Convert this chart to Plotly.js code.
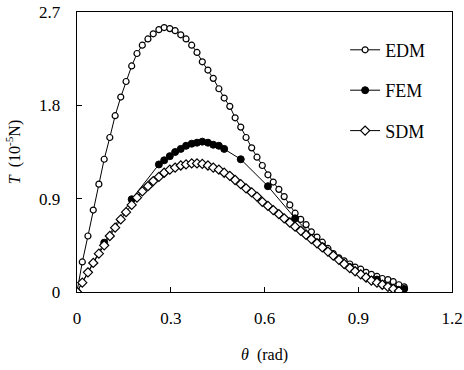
<!DOCTYPE html>
<html>
<head>
<meta charset="utf-8">
<script src="https://cdn.plot.ly/plotly-3.0.1.min.js"></script>
<style>
html,body{margin:0;padding:0;background:#fff;}
#chart{width:464px;height:370px;}
#chart svg text{font-family:"Liberation Serif","Times New Roman",serif !important;}
</style>
</head>
<body>
<div id="chart"></div>
<script>
// theta in rad (1 degree steps)
const thetaFine = [0,0.017,0.035,0.052,0.070,0.087,0.105,0.122,0.140,0.157,0.175,0.192,0.209,0.227,0.244,0.262,0.279,0.297,0.314,0.332,0.349,0.367,0.384,0.401,0.419,0.436,0.454,0.471,0.489,0.506,0.524,0.541,0.559,0.576,0.593,0.611,0.628,0.646,0.663,0.681,0.698,0.716,0.733,0.750,0.768,0.785,0.803,0.820,0.838,0.855,0.873,0.890,0.908,0.925,0.942,0.960,0.977,0.995,1.012,1.030,1.047];
const edmT = [0,0.29,0.54,0.79,1.04,1.28,1.49,1.70,1.88,2.03,2.18,2.30,2.38,2.44,2.49,2.53,2.55,2.54,2.52,2.48,2.44,2.38,2.31,2.22,2.14,2.06,1.96,1.87,1.79,1.68,1.59,1.49,1.39,1.30,1.22,1.13,1.06,0.99,0.92,0.84,0.76,0.70,0.65,0.58,0.53,0.48,0.42,0.37,0.33,0.30,0.27,0.24,0.22,0.19,0.17,0.15,0.13,0.12,0.10,0.07,0.05];
const sdmTheta = [0,0.017,0.035,0.052,0.070,0.087,0.105,0.122,0.140,0.157,0.175,0.192,0.209,0.227,0.244,0.262,0.279,0.297,0.314,0.332,0.349,0.367,0.384,0.401,0.419,0.436,0.454,0.471,0.489,0.506,0.524,0.541,0.559,0.576,0.593,0.611,0.628,0.646,0.663,0.681,0.698,0.716,0.733,0.750,0.768,0.785,0.803,0.820,0.838,0.855,0.873,0.890,0.908,0.925,0.942,0.960,0.977,0.995,1.012,1.030];
const sdmT = [0,0.09,0.19,0.28,0.37,0.45,0.54,0.62,0.70,0.77,0.84,0.91,0.97,1.02,1.07,1.11,1.15,1.18,1.20,1.22,1.23,1.24,1.24,1.235,1.22,1.20,1.18,1.15,1.12,1.08,1.04,1.00,0.96,0.92,0.87,0.83,0.79,0.75,0.71,0.67,0.63,0.59,0.55,0.51,0.47,0.43,0.39,0.35,0.31,0.27,0.23,0.20,0.17,0.14,0.11,0.09,0.07,0.05,0.03,0.01];
const femTheta = [0,0.087,0.175,0.262,0.279,0.297,0.314,0.332,0.349,0.367,0.384,0.401,0.419,0.436,0.454,0.471,0.524,0.611,0.698,0.785,0.873,0.960,1.047];
const femT = [0,0.476,0.894,1.23,1.27,1.31,1.35,1.38,1.41,1.43,1.44,1.45,1.44,1.42,1.41,1.38,1.28,1.02,0.71,0.44,0.24,0.12,0.03];
const xTicks = [0,0.3,0.6,0.9,1.2];
const xTickText = ['0','0.3','0.6','0.9','1.2'];
const yTicks = [0,0.9,1.8,2.7];
const yTickText = ['0','0.9','1.8','2.7'];

const font = '"Liberation Serif", "Times New Roman", serif';
const traces = [
  {x: thetaFine, y: edmT, name: 'EDM', mode: 'lines+markers', legendgroup: 'a',
   line: {color: '#000', width: 1},
   marker: {symbol: 'circle', size: 6, color: '#fff', line: {color: '#000', width: 1.2}}},
  {x: femTheta, y: femT, name: 'FEM', mode: 'lines+markers', legendgroup: 'b',
   line: {color: '#000', width: 1},
   marker: {symbol: 'circle', size: 7, color: '#000', line: {color: '#000', width: 1}}},
  {x: sdmTheta, y: sdmT, name: 'SDM', mode: 'lines+markers', legendgroup: 'c',
   line: {color: '#000', width: 1},
   marker: {symbol: 'diamond', size: 7, color: '#fff', line: {color: '#000', width: 1.2}}}
];
const layout = {
  width: 464, height: 370,
  margin: {l: 77, r: 12, t: 12, b: 78},
  paper_bgcolor: '#fff', plot_bgcolor: '#fff',
  font: {family: font, size: 17, color: '#000'},
  showlegend: true,
  legend: {x: 0.715, y: 0.93, xanchor: 'left', yanchor: 'top', bgcolor: 'rgba(0,0,0,0)',
    font: {family: font, size: 18}, tracegroupgap: 14, itemwidth: 30},
  xaxis: {range: [0, 1.2], tickvals: xTicks, ticktext: xTickText, ticks: 'inside', ticklen: 5,
    tickcolor: '#000', showline: true, linecolor: '#000', linewidth: 1.3, mirror: true,
    showgrid: false, zeroline: false, ticklabelstandoff: 10,
    tickfont: {family: font, size: 17},
    title: {text: '<i>θ</i>  (rad)', font: {family: font, size: 16}, standoff: 22}},
  yaxis: {range: [0, 2.7], tickvals: yTicks, ticktext: yTickText, ticks: 'inside', ticklen: 5,
    tickcolor: '#000', showline: true, linecolor: '#000', linewidth: 1.3, mirror: true,
    showgrid: false, zeroline: false, ticklabelstandoff: 12,
    tickfont: {family: font, size: 17},
    title: {text: '<i>T</i>  (10<sup>-5</sup>N)', font: {family: font, size: 16}, standoff: 14}}
};
Plotly.newPlot('chart', traces, layout, {displayModeBar: false, staticPlot: true});
</script>
</body>
</html>
